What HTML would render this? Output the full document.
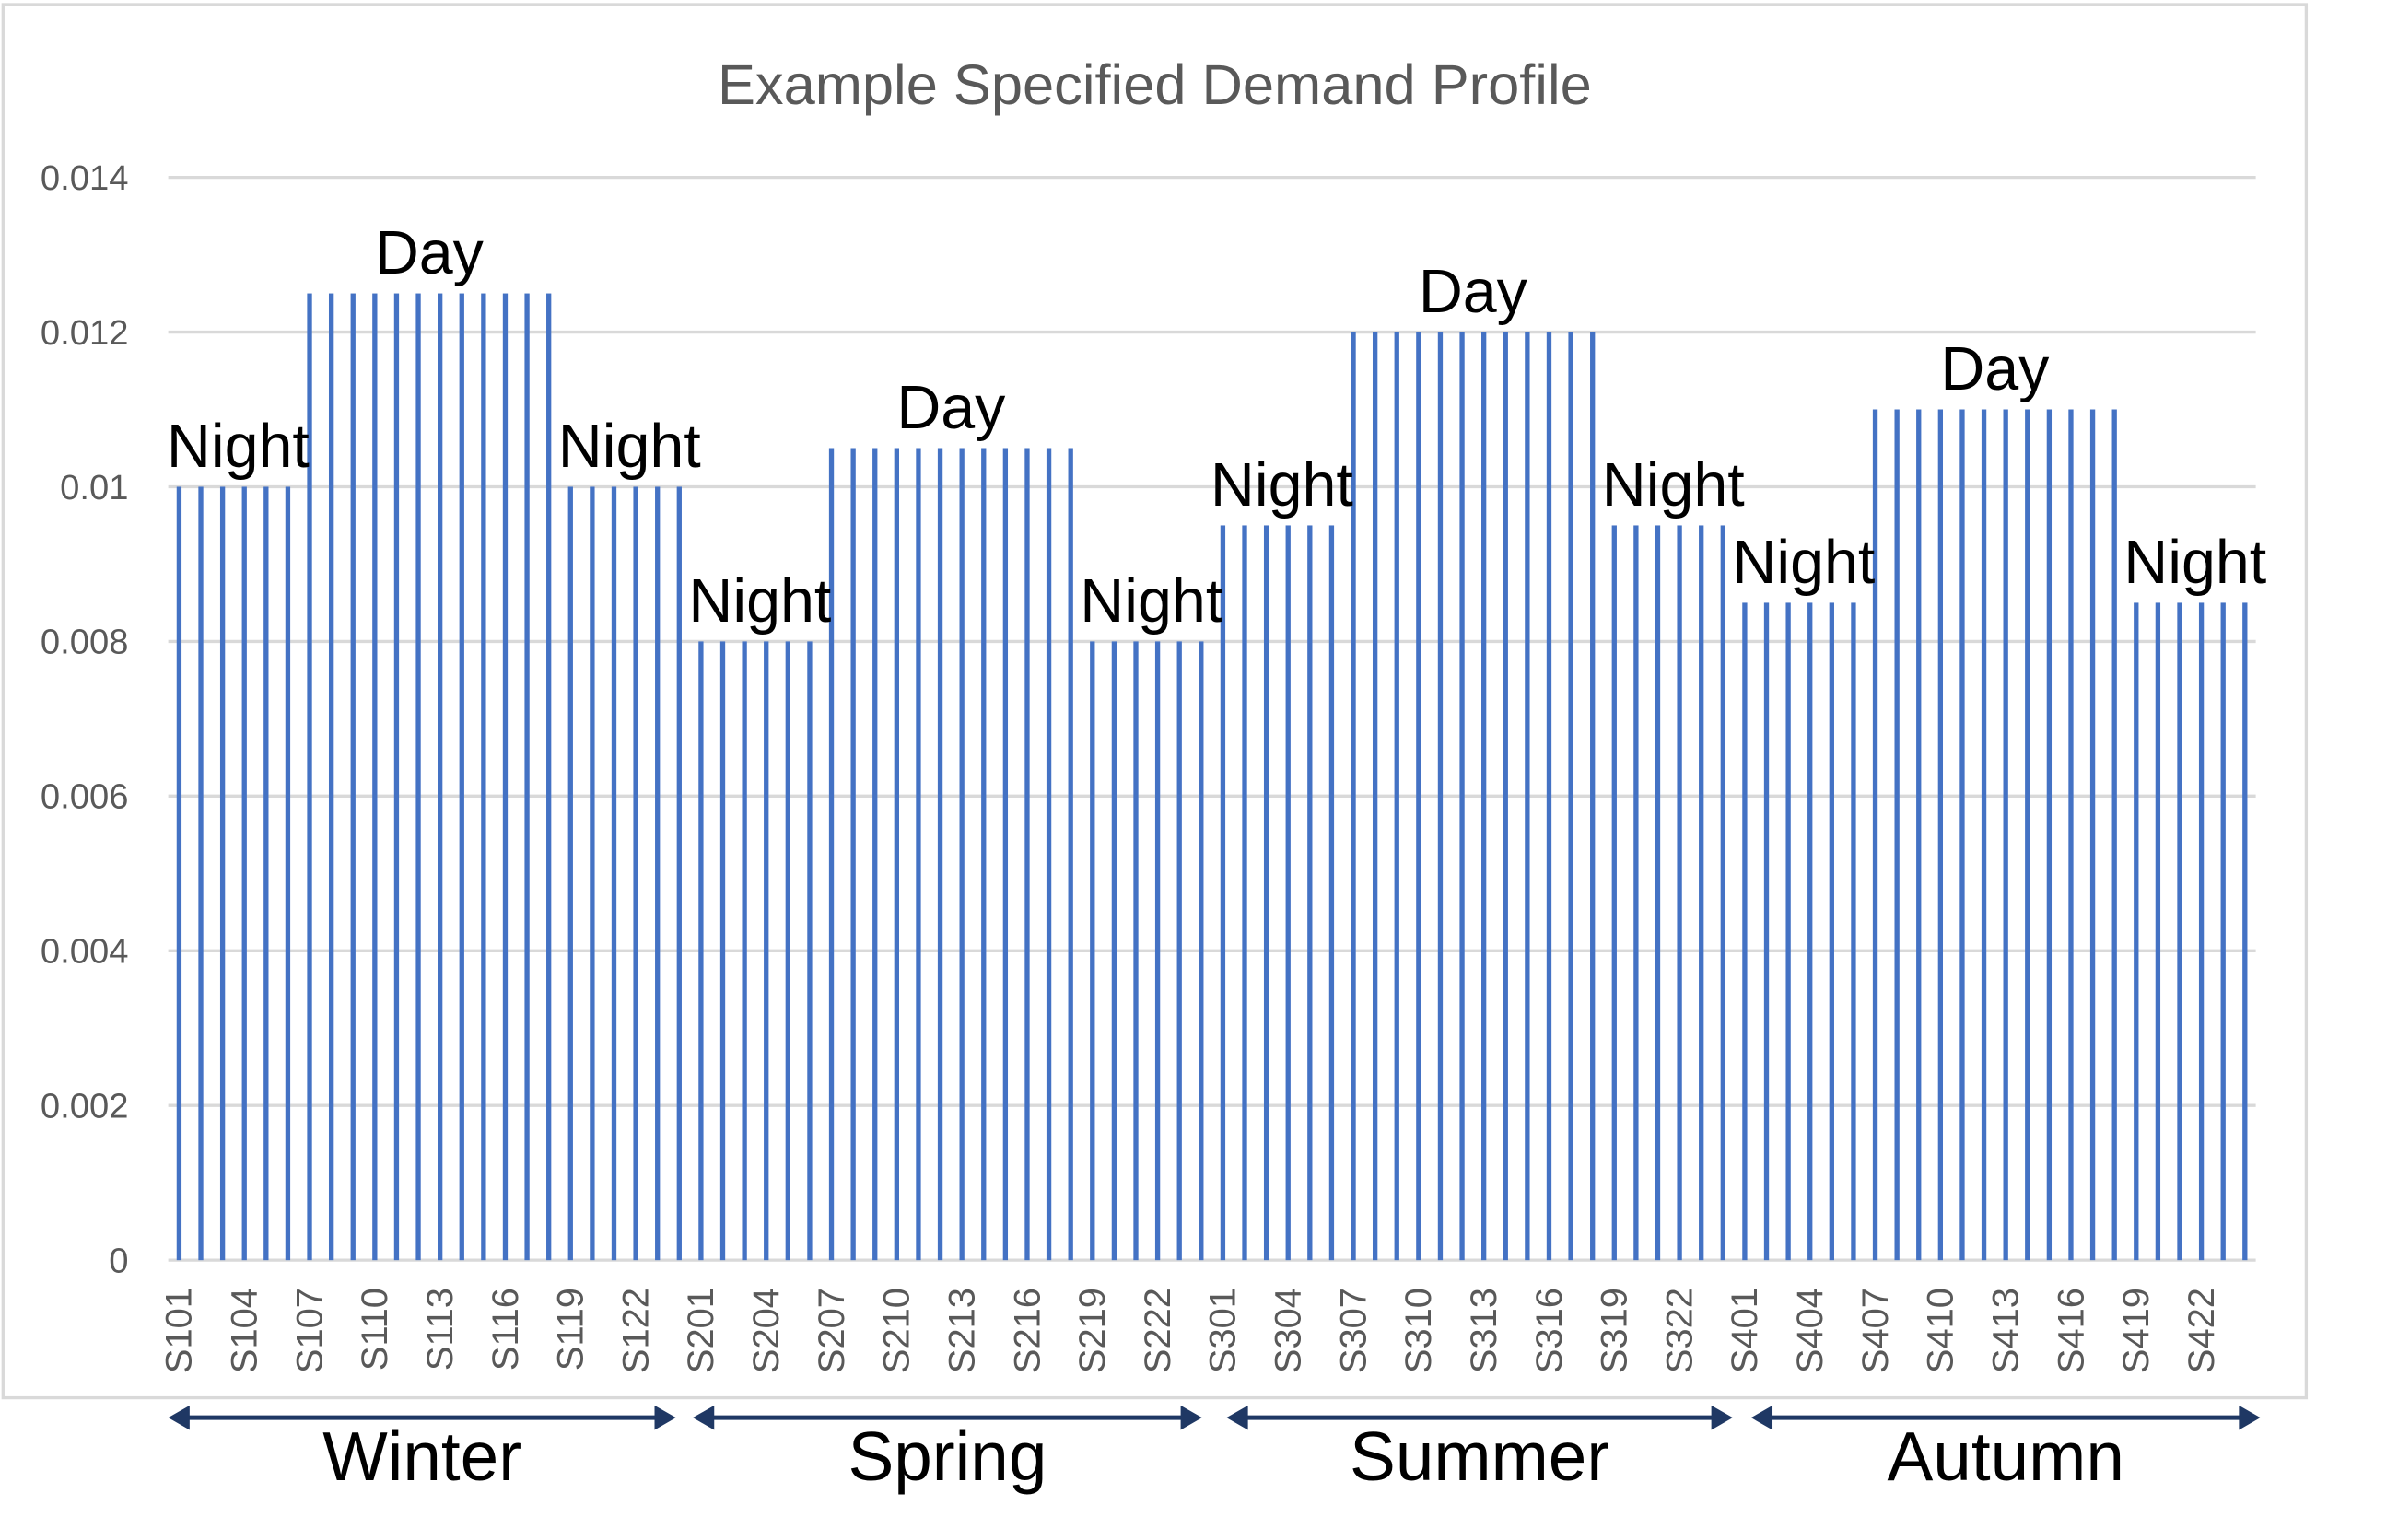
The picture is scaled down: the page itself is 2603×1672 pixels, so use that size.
<!DOCTYPE html>
<html><head><meta charset="utf-8"><style>
html,body{margin:0;padding:0;background:#fff;width:2603px;height:1672px;overflow:hidden}
svg{display:block}
text{font-family:"Liberation Sans",sans-serif}
</style></head><body>
<svg id="chart" width="2603" height="1672" viewBox="0 0 1568 1007" preserveAspectRatio="none" xmlns="http://www.w3.org/2000/svg">
<rect x="2" y="3" width="1506" height="911" fill="#fff" stroke="#d9d9d9" stroke-width="2"/>
<text x="755" y="68" text-anchor="middle" font-size="37" fill="#595959">Example Specified Demand Profile</text>
<g id="grid"></g><g id="bars"></g><g id="ylabels"></g><g id="xlabels"></g><g id="annos"></g><g id="seasons"></g>
</svg>
<script>
const seasons=["Winter","Spring","Summer","Autumn"];
const nightValues=[0.010,0.008,0.0095,0.0085];
const dayValues=[0.0125,0.0105,0.012,0.011];
const yTicks=[0,0.002,0.004,0.006,0.008,0.01,0.012,0.014];
const yTickLabels=["0","0.002","0.004","0.006","0.008","0.01","0.012","0.014"];
const NS="http://www.w3.org/2000/svg";
const plotL=110,plotR=1475,y0=824,yTop=116,yMax=0.014,nCat=96;
const bw=(plotR-plotL)/nCat;
function yS(v){return y0-(v/yMax)*(y0-yTop);}
function xS(i){return plotL+bw*(i+0.5);}
function mk(tag,attrs,parent,txt){const e=document.createElementNS(NS,tag);for(const k in attrs)e.setAttribute(k,attrs[k]);if(txt!==undefined)e.textContent=txt;document.getElementById(parent).appendChild(e);return e;}
const categories=[],values=[];
seasons.forEach((s,si)=>{for(let h=1;h<=24;h++){categories.push("S"+(si+1)+String(h).padStart(2,"0"));values.push(h<=6||h>18?nightValues[si]:dayValues[si]);}});
yTicks.forEach((t,i)=>{
  const l=mk("line",{x1:plotL,x2:plotR,y1:yS(t),y2:yS(t),stroke:"#d9d9d9","stroke-width":2},"grid");
  
  
  const tx=mk("text",{x:84,y:yS(t)+8,"text-anchor":"end","font-size":23,fill:"#595959"},"ylabels",yTickLabels[i]);
  
  
});
values.forEach((v,i)=>{
  const r=mk("rect",{x:xS(i)-1.6,y:yS(v),width:3.2,height:y0-yS(v),fill:"#4472c4"},"bars");
  
  
  if(i%3===0){
    const t=mk("text",{transform:`translate(${xS(i)+8},${842}) rotate(-90)`,"text-anchor":"end","font-size":24,fill:"#595959"},"xlabels",categories[i]);
    
    
  }
});
seasons.forEach((s,si)=>{
  const segs=[[0,6,nightValues[si],"Night"],[6,18,dayValues[si],"Day"],[18,24,nightValues[si],"Night"]];
  segs.forEach(([a,b,v,lab])=>{
    const i0=si*24+a,i1=si*24+b-1;
    const cx=lab==="Day"?(xS(i0)+xS(i1))/2:(xS(i0)+xS(i1))/2+3;
    const t=mk("text",{x:cx,y:yS(v)-13,"text-anchor":"middle","font-size":40,fill:"#000"},"annos",lab);
    
    
  });
  const x1=[110,453,802,1145][si],x2=[442,786,1133,1478][si];
  const g=mk("g",{},"seasons");
  
  
  const ln=document.createElementNS(NS,"line");
  ln.setAttribute("x1",x1+10);ln.setAttribute("x2",x2-10);ln.setAttribute("y1",927);ln.setAttribute("y2",927);ln.setAttribute("stroke","#1f3864");ln.setAttribute("stroke-width",3);g.appendChild(ln);
  const p1=document.createElementNS(NS,"polygon");p1.setAttribute("points",`${x1},927 ${x1+14},919 ${x1+14},935`);p1.setAttribute("fill","#1f3864");g.appendChild(p1);
  const p2=document.createElementNS(NS,"polygon");p2.setAttribute("points",`${x2},927 ${x2-14},919 ${x2-14},935`);p2.setAttribute("fill","#1f3864");g.appendChild(p2);
  const t=mk("text",{x:(x1+x2)/2,y:968,"text-anchor":"middle","font-size":45,fill:"#000"},"seasons",s);
  
  
});
</script>
</body></html>
